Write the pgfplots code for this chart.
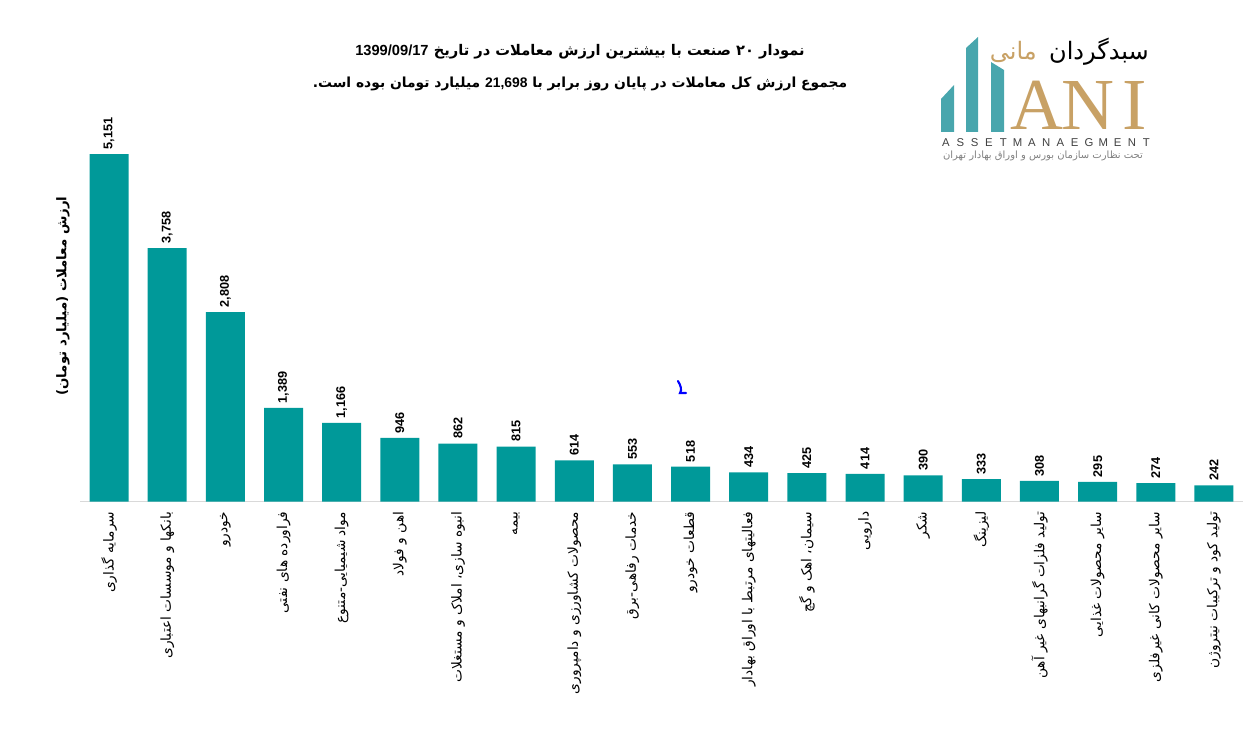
\documentclass[border=0pt]{standalone}
\usepackage{fontspec}
\usepackage{pgfplots}
\pgfplotsset{compat=1.18}
\setmainfont{Liberation Sans}
\newfontfamily\ar[Script=Arabic]{DejaVu Sans}
\newfontfamily\serifA{Liberation Serif}
\TeXXeTstate=1
\definecolor{barteal}{RGB}{0,153,153}
\definecolor{logoteal}{RGB}{72,166,173}
\definecolor{logogold}{RGB}{200,161,101}
\definecolor{basegray}{RGB}{217,217,217}
\begin{document}
\begin{tikzpicture}
\path[use as bounding box] (0,0) rectangle (933pt,554.25pt);
\begin{axis}[
  at={(60pt,177.98pt)}, anchor=south west,
  scale only axis, width=872.25pt, height=288.56pt,
  xmin=-0.5, xmax=19.5, ymin=0, ymax=5700,
  axis x line=bottom, axis y line=none,
  x axis line style={-, draw=basegray, line width=0.8pt},
  ybar, bar width=29.25pt,
  xtick={0,...,19}, major tick length=0,
  xticklabel shift=4pt,
  xticklabel style={rotate=90, anchor=east, font=\ar\fontsize{10.3}{12}\selectfont},
  xticklabels={
    {\beginR سرمایه گذاری\endR},
    {\beginR بانکها و موسسات اعتباری\endR},
    {\beginR خودرو\endR},
    {\beginR فراورده های نفتی\endR},
    {\beginR مواد شیمیایی-متنوع\endR},
    {\beginR اهن و فولاد\endR},
    {\beginR انبوه سازی، املاک و مستغلات\endR},
    {\beginR بیمه\endR},
    {\beginR محصولات کشاورزی و دامپروری\endR},
    {\beginR خدمات رفاهی-برق\endR},
    {\beginR قطعات خودرو\endR},
    {\beginR فعالیتهای مرتبط با اوراق بهادار\endR},
    {\beginR سیمان، اهک و گچ\endR},
    {\beginR دارویی\endR},
    {\beginR شکر\endR},
    {\beginR لیزینگ\endR},
    {\beginR تولید فلزات گرانبهای غیر آهن\endR},
    {\beginR سایر محصولات غذایی\endR},
    {\beginR سایر محصولات کانی غیرفلزی\endR},
    {\beginR تولید کود و ترکیبات نیتروژن\endR}},
  nodes near coords,
  every node near coord/.append style={rotate=90, anchor=west, font=\bfseries\fontsize{9.5}{11}\selectfont, text=black},
  /pgf/number format/.cd, 1000 sep={,}, assume math mode=true,
]
\addplot[fill=barteal, draw=none] coordinates {
(0,5151) (1,3758) (2,2808) (3,1389) (4,1166) (5,946) (6,862) (7,815) (8,614) (9,553)
(10,518) (11,434) (12,425) (13,414) (14,390) (15,333) (16,308) (17,295) (18,274) (19,242)};
\end{axis}
\begin{scope}[x=0.75pt, y=-0.75pt, yshift=554.25pt]
% titles
\node[font=\ar\bfseries\fontsize{11}{13}\selectfont] at (580,52)
  {\beginR نمودار ۲۰ صنعت با بیشترین ارزش معاملات در تاریخ \beginL{\rmfamily 1399/09/17}\endL\endR};
\node[font=\ar\bfseries\fontsize{10.4}{12}\selectfont] at (580,84)
  {\beginR مجموع ارزش کل معاملات در پایان روز برابر با \beginL{\rmfamily 21,698}\endL{} میلیارد تومان بوده است.\endR};
% y label
\node[rotate=90, font=\ar\bfseries\fontsize{10}{12}\selectfont] at (63,296)
  {\beginR ارزش معاملات (میلیارد تومان)\endR};
% stray mark
\draw[blue, line width=1.6pt, line cap=round] (678,381) .. controls (681,386) and (682,390) .. (680,393) -- (686,393);
% logo
\fill[logoteal] (941,99) -- (954,85) -- (954,132) -- (941,132) -- cycle;
\fill[logoteal] (966,48) -- (978,37) -- (978,132) -- (966,132) -- cycle;
\fill[logoteal] (991,62) -- (1004,70) -- (1004,132) -- (991,132) -- cycle;
\node[font=\serifA\fontsize{55}{55}\selectfont, text=logogold, anchor=base, inner sep=0] at (1037,130) {A};
\node[font=\serifA\fontsize{55}{55}\selectfont, text=logogold, anchor=base, inner sep=0] at (1088,130) {N};
\node[font=\serifA\fontsize{55}{55}\selectfont, text=logogold, anchor=base, inner sep=0] at (1135,130) {I};
\node[font=\ar\fontsize{18}{19}\selectfont, anchor=east, inner sep=0] at (1149,52) {\beginR سبدگردان\endR};
\node[font=\ar\fontsize{18}{19}\selectfont, anchor=east, text=logogold, inner sep=0] at (1037,52) {\beginR مانی\endR};
\foreach \c [count=\i from 0] in {A,S,S,E,T,M,A,N,A,E,G,M,E,N,T}
  \node[font=\fontsize{8.5}{10}\selectfont, text=black!75, anchor=base, inner sep=0] at (946+\i*14.3,147) {\c};
\node[font=\ar\fontsize{7.5}{8}\selectfont, text=black!50, anchor=center, inner sep=0] at (1043,156) {\beginR تحت نظارت سازمان بورس و اوراق بهادار تهران\endR};
\end{scope}
\end{tikzpicture}
\end{document}
